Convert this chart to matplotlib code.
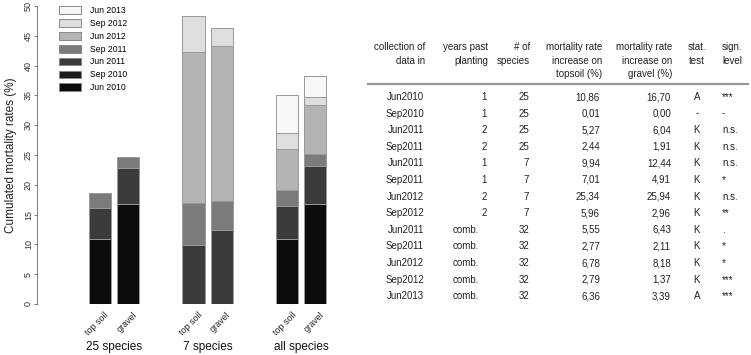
import matplotlib
matplotlib.use('Agg')
import matplotlib.pyplot as plt
from matplotlib.patches import Patch

plt.rcParams['font.family'] = ['Liberation Sans', 'DejaVu Sans']

# stacked bar data (cumulated mortality increase, %)
periods = ['Jun 2010', 'Sep 2010', 'Jun 2011', 'Sep 2011', 'Jun 2012', 'Sep 2012', 'Jun 2013']
period_colors = ['#0c0c0c', '#1c1c1c', '#3b3b3b', '#7b7b7b', '#b4b4b4', '#dedede', '#f8f8f8']
bar_names = ['top soil', 'gravel', 'top soil', 'gravel', 'top soil', 'gravel']
group_names = ['25 species', '7 species', 'all species']
topsoil_25 = [10.86, 0.01, 5.27, 2.44, 0, 0, 0]
gravel_25 = [16.70, 0.00, 6.04, 1.91, 0, 0, 0]
topsoil_7 = [0, 0, 9.94, 7.01, 25.34, 5.96, 0]
gravel_7 = [0, 0, 12.44, 4.91, 25.94, 2.96, 0]
topsoil_all = [10.86, 0, 5.55, 2.77, 6.78, 2.79, 6.36]
gravel_all = [16.70, 0, 6.43, 2.11, 8.18, 1.37, 3.39]
bars = [topsoil_25, gravel_25, topsoil_7, gravel_7, topsoil_all, gravel_all]

# table data
tab_date = ['Jun2010', 'Sep2010', 'Jun2011', 'Sep2011', 'Jun2011', 'Sep2011', 'Jun2012',
            'Sep2012', 'Jun2011', 'Sep2011', 'Jun2012', 'Sep2012', 'Jun2013']
tab_years = ['1', '1', '2', '2', '1', '1', '2', '2', 'comb.', 'comb.', 'comb.', 'comb.', 'comb.']
tab_nspec = ['25', '25', '25', '25', '7', '7', '7', '7', '32', '32', '32', '32', '32']
tab_top = ['10,86', '0,01', '5,27', '2,44', '9,94', '7,01', '25,34', '5,96',
           '5,55', '2,77', '6,78', '2,79', '6,36']
tab_grav = ['16,70', '0,00', '6,04', '1,91', '12,44', '4,91', '25,94', '2,96',
            '6,43', '2,11', '8,18', '1,37', '3,39']
tab_test = ['A', '-', 'K', 'K', 'K', 'K', 'K', 'K', 'K', 'K', 'K', 'K', 'A']
tab_sign = ['***', '-', 'n.s.', 'n.s.', 'n.s.', '*', 'n.s.', '**', '.', '*', '*', '***', '***']

W, H = 751, 355
fig = plt.figure(figsize=(W / 100, H / 100), dpi=100)

# bar chart
ax = fig.add_axes([37 / W, 51 / H, (350 - 37) / W, 298 / H])
xpos = []
for g in range(3):
    xpos += [g * 4.25, g * 4.25 + 1.28]
for x, vals in zip(xpos, bars):
    bottom = 0
    for v, c in zip(vals, period_colors):
        if v == 0:
            continue
        ax.bar(x, v, bottom=bottom, width=1.0, color=c, edgecolor='#999999', linewidth=0.7)
        bottom += v

ax.set_xlim(-2.86, 11.36)
ax.set_ylim(0, 50)
for s in ['top', 'right', 'bottom']:
    ax.spines[s].set_visible(False)
ax.spines['left'].set_bounds(0, 50)
ax.spines['left'].set_color('#777777')
ax.spines['left'].set_linewidth(0.7)
ax.set_xticks([])
ax.set_yticks(range(0, 51, 5))
ax.tick_params(axis='y', length=2, width=0.7, color='#777777', labelsize=6.5,
               labelcolor='#333333', pad=1)
for lab in ax.get_yticklabels():
    lab.set_rotation(90)
    lab.set_va('center')
ax.set_ylabel('Cumulated mortality rates (%)', fontsize=8.5, color='#222222', labelpad=5)

for x, name in zip(xpos, bar_names):
    ax.text(x + 0.2, -0.02, name, transform=ax.get_xaxis_transform(), rotation=45,
            rotation_mode='anchor', ha='right', va='top', fontsize=6.5, color='#222222')
for g, name in enumerate(group_names):
    ax.text(g * 4.25 + 0.64, -0.145, name, transform=ax.get_xaxis_transform(),
            ha='center', va='center', fontsize=8.5, color='#111111')

handles = [Patch(facecolor=c, edgecolor='#888888', linewidth=0.7, label=p)
           for p, c in zip(periods, period_colors)][::-1]
fig.legend(handles=handles, loc='upper left', bbox_to_anchor=(59 / W, 1 - 6 / H),
           frameon=False, fontsize=6.2, handlelength=2.6, handleheight=1.0,
           labelspacing=0.45, handletextpad=1.0, borderpad=0, borderaxespad=0)

# table
tx = fig.add_axes([0, 0, 1, 1])
tx.set_xlim(0, W)
tx.set_ylim(H, 0)
tx.axis('off')
fs = 7
tc = '#222222'
headers = [
    (425, 'right', ['collection of', 'data in']),
    (488, 'right', ['years past', 'planting']),
    (530, 'right', ['# of', 'species']),
    (602, 'right', ['mortality rate', 'increase on', 'topsoil (%)']),
    (672, 'right', ['mortality rate', 'increase on', 'gravel (%)']),
    (697, 'center', ['stat.', 'test']),
    (722, 'left', ['sign.', 'level']),
]
for x, ha, lines in headers:
    for i, t in enumerate(lines):
        tx.text(x, 47 + i * 13.5, t, ha=ha, va='center', fontsize=fs, color=tc)
tx.plot([368, 748], [84, 84], color='#999999', lw=1.6)

for i in range(len(tab_date)):
    y = 97 + i * 16.6
    tx.text(424, y, tab_date[i], ha='right', va='center', fontsize=fs, color=tc)
    if tab_years[i] == 'comb.':
        tx.text(466, y, tab_years[i], ha='center', va='center', fontsize=fs, color=tc)
    else:
        tx.text(487, y, tab_years[i], ha='right', va='center', fontsize=fs, color=tc)
    tx.text(529, y, tab_nspec[i], ha='right', va='center', fontsize=fs, color=tc)
    tx.text(600, y, tab_top[i], ha='right', va='center', fontsize=fs, color=tc)
    tx.text(671, y, tab_grav[i], ha='right', va='center', fontsize=fs, color=tc)
    tx.text(697, y, tab_test[i], ha='center', va='center', fontsize=fs, color=tc)
    tx.text(722, y, tab_sign[i], ha='left', va='center', fontsize=fs, color=tc)

fig.savefig('out.png', dpi=100)
